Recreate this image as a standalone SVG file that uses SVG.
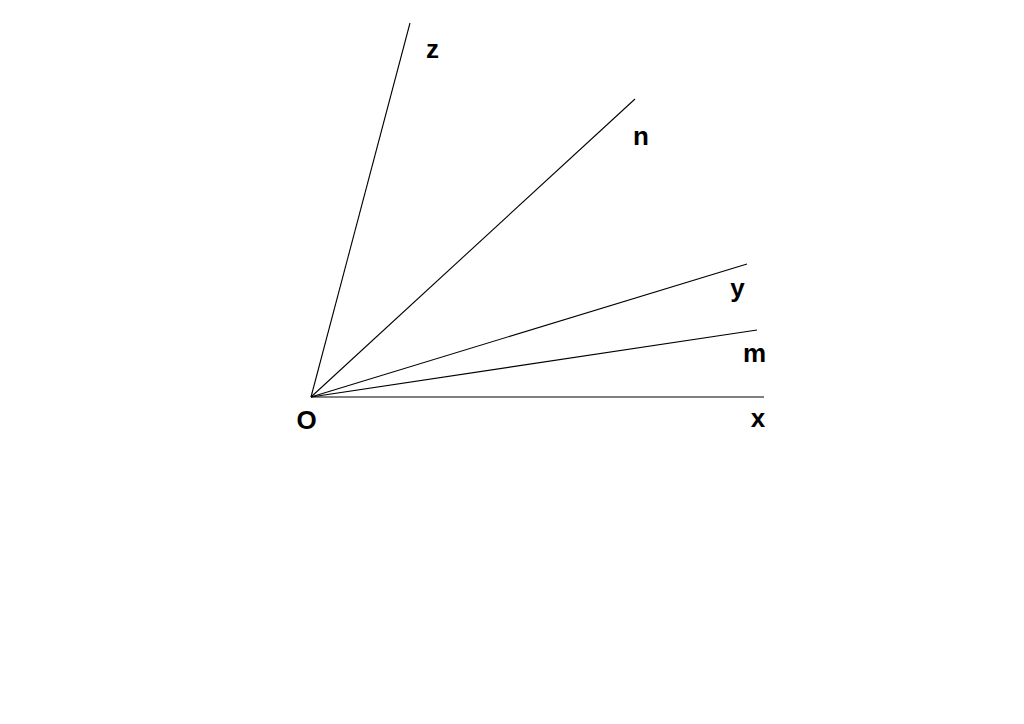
<svg xmlns="http://www.w3.org/2000/svg" width="1024" height="724" viewBox="0 0 1024 724">
<style>
.ray{stroke:#000;stroke-width:1.1;fill:none}
.lbl{font-family:"Liberation Sans",Arial,sans-serif;font-weight:bold;font-size:26px;fill:#000;text-anchor:middle}
</style>
<rect width="1024" height="724" fill="#fff"/>
<g id="connectors">
<line class="ray" x1="311" y1="397" x2="410" y2="23"/>
<line class="ray" x1="311" y1="397" x2="635" y2="99"/>
<line class="ray" x1="311" y1="397" x2="747" y2="264"/>
<line class="ray" x1="311" y1="397" x2="757" y2="330"/>
<line class="ray" x1="311" y1="397" x2="764" y2="397"/>
</g>
<g id="O"><text class="lbl" x="306.5" y="429">O</text></g>
<g id="z"><text class="lbl" x="432.5" y="58">z</text></g>
<g id="n"><text class="lbl" x="641" y="145">n</text></g>
<g id="y"><text class="lbl" x="737.5" y="297">y</text></g>
<g id="m"><text class="lbl" x="754.5" y="362">m</text></g>
<g id="x"><text class="lbl" x="758" y="427">x</text></g>
</svg>
